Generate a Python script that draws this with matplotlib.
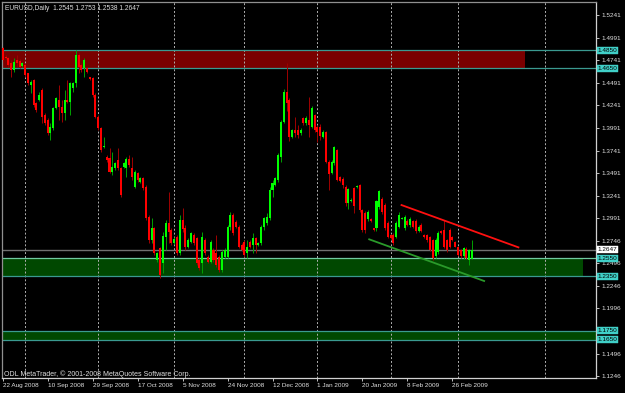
import matplotlib
matplotlib.use('Agg')
import matplotlib.pyplot as plt
import matplotlib.transforms as mtransforms

plt.rcParams['font.family'] = ['Liberation Sans', 'DejaVu Sans']

# daily bars, one per trading day (Sundays included), 22 Aug 2008 .. 6 Mar 2009
opens = [1.4872, 1.4780, 1.4769, 1.4706, 1.4633, 1.4743, 1.4736, 1.4677, 1.4688, 1.4596,
         1.4467, 1.4522, 1.4264, 1.4301, 1.4411, 1.4135, 1.4080, 1.3932, 1.3987, 1.4209,
         1.4301, 1.4227, 1.4153, 1.4301, 1.4283, 1.4430, 1.4485, 1.4799, 1.4688, 1.4651,
         1.4651, 1.4552, 1.4540, 1.4356, 1.4116, 1.3987, 1.3777, 1.3674, 1.3655, 1.3508,
         1.3545, 1.3637, 1.3545, 1.3563, 1.3545, 1.3645, 1.3545, 1.3342, 1.3490, 1.3397,
         1.3434, 1.3342, 1.3010, 1.2752, 1.2881, 1.2531, 1.2660, 1.2494, 1.2789, 1.2936,
         1.2863, 1.2715, 1.2789, 1.2605, 1.2973, 1.2880, 1.2678, 1.2733, 1.2807, 1.2770,
         1.2531, 1.2494, 1.2752, 1.2568, 1.2513, 1.2641, 1.2605, 1.2568, 1.2420, 1.2568,
         1.2568, 1.2900, 1.3029, 1.2955, 1.2900, 1.2697, 1.2733, 1.2605, 1.2733, 1.2697,
         1.2770, 1.2697, 1.2715, 1.2900, 1.2936, 1.2992, 1.3305, 1.3360, 1.3416, 1.3674,
         1.4061, 1.4390, 1.4300, 1.3895, 1.3969, 1.3969, 1.3932, 1.4098, 1.4043, 1.4080,
         1.4006, 1.4135, 1.4006, 1.4000, 1.3895, 1.3950, 1.3620, 1.3490, 1.3600, 1.3750,
         1.3450, 1.3430, 1.3340, 1.3160, 1.3180, 1.3330, 1.3340, 1.3360, 1.3080, 1.3050,
         1.2980, 1.2990, 1.2880, 1.2880, 1.3120, 1.3210, 1.3140, 1.2940, 1.2810, 1.2810,
         1.2790, 1.2900, 1.2990, 1.2880, 1.2960, 1.2920, 1.2960, 1.2960, 1.2850, 1.2920,
         1.2810, 1.2810, 1.2790, 1.2750, 1.2570, 1.2620, 1.2850, 1.2860, 1.2750, 1.2860,
         1.2790, 1.2730, 1.2680, 1.2640, 1.2570, 1.2650, 1.2530, 1.2545]
highs = [1.4891, 1.4795, 1.4780, 1.4743, 1.4762, 1.4799, 1.4751, 1.4725, 1.4706, 1.4603,
         1.4522, 1.4530, 1.4283, 1.4393, 1.4430, 1.4154, 1.4098, 1.4043, 1.4227, 1.4338,
         1.4467, 1.4301, 1.4411, 1.4522, 1.4504, 1.4504, 1.4854, 1.4817, 1.4706, 1.4762,
         1.4670, 1.4559, 1.4559, 1.4375, 1.4135, 1.4006, 1.3895, 1.3692, 1.3766, 1.3729,
         1.3619, 1.3766, 1.3563, 1.3619, 1.3674, 1.3692, 1.3674, 1.3527, 1.3508, 1.3453,
         1.3453, 1.3361, 1.3029, 1.2992, 1.2900, 1.2623, 1.2678, 1.2844, 1.2973, 1.3287,
         1.2881, 1.2789, 1.2807, 1.3029, 1.3103, 1.2918, 1.2770, 1.2844, 1.2826, 1.2789,
         1.2549, 1.2844, 1.2770, 1.2586, 1.2752, 1.2660, 1.2807, 1.2586, 1.2641, 1.2660,
         1.2918, 1.3066, 1.3047, 1.2973, 1.2918, 1.2715, 1.2752, 1.2752, 1.2752, 1.2826,
         1.2789, 1.2733, 1.2918, 1.3010, 1.3047, 1.3342, 1.3416, 1.3453, 1.3711, 1.4080,
         1.4419, 1.4710, 1.4320, 1.3980, 1.4116, 1.4024, 1.3987, 1.4116, 1.4120, 1.4338,
         1.4230, 1.4150, 1.4020, 1.4040, 1.3970, 1.3960, 1.3640, 1.3640, 1.3790, 1.3760,
         1.3460, 1.3450, 1.3360, 1.3330, 1.3220, 1.3340, 1.3360, 1.3370, 1.3100, 1.3070,
         1.3080, 1.3000, 1.2890, 1.3200, 1.3310, 1.3230, 1.3160, 1.2960, 1.2820, 1.2830,
         1.2960, 1.3060, 1.3010, 1.3030, 1.2980, 1.3010, 1.2970, 1.2980, 1.2920, 1.2940,
         1.2820, 1.2820, 1.2800, 1.2760, 1.2770, 1.2850, 1.2860, 1.2970, 1.2760, 1.2880,
         1.2800, 1.2740, 1.2690, 1.2650, 1.2680, 1.2670, 1.2650, 1.2753]
lows = [1.4725, 1.4750, 1.4670, 1.4559, 1.4614, 1.4670, 1.4651, 1.4670, 1.4559, 1.4467,
        1.4375, 1.4227, 1.4172, 1.4294, 1.4043, 1.4024, 1.3914, 1.3858, 1.3969, 1.4198,
        1.4080, 1.4061, 1.4080, 1.4264, 1.4135, 1.4393, 1.4448, 1.4596, 1.4614, 1.4559,
        1.4596, 1.4522, 1.4338, 1.4098, 1.3969, 1.3729, 1.3766, 1.3619, 1.3490, 1.3471,
        1.3527, 1.3527, 1.3231, 1.3545, 1.3453, 1.3563, 1.3416, 1.3324, 1.3397, 1.3386,
        1.3305, 1.2973, 1.2715, 1.2715, 1.2586, 1.2512, 1.2328, 1.2383, 1.2641, 1.2715,
        1.2697, 1.2708, 1.2586, 1.2586, 1.2840, 1.2641, 1.2660, 1.2715, 1.2697, 1.2476,
        1.2420, 1.2383, 1.2586, 1.2502, 1.2494, 1.2513, 1.2457, 1.2402, 1.2402, 1.2549,
        1.2549, 1.2863, 1.2807, 1.2881, 1.2660, 1.2634, 1.2568, 1.2549, 1.2660, 1.2605,
        1.2605, 1.2686, 1.2697, 1.2863, 1.2918, 1.2973, 1.3231, 1.3349, 1.3397, 1.3619,
        1.4043, 1.4180, 1.3850, 1.3885, 1.3895, 1.3877, 1.3914, 1.4024, 1.4030, 1.3895,
        1.3990, 1.3950, 1.3840, 1.3860, 1.3885, 1.3600, 1.3310, 1.3480, 1.3580, 1.3400,
        1.3390, 1.3330, 1.3130, 1.3100, 1.3170, 1.3050, 1.3330, 1.3060, 1.2840, 1.2830,
        1.2960, 1.2950, 1.2850, 1.2850, 1.3100, 1.3040, 1.2860, 1.2770, 1.2760, 1.2700,
        1.2770, 1.2880, 1.2980, 1.2860, 1.2910, 1.2900, 1.2880, 1.2830, 1.2840, 1.2840,
        1.2780, 1.2730, 1.2630, 1.2530, 1.2550, 1.2600, 1.2820, 1.2660, 1.2620, 1.2660,
        1.2740, 1.2670, 1.2580, 1.2550, 1.2540, 1.2540, 1.2480, 1.2538]
closes = [1.4743, 1.4762, 1.4688, 1.4633, 1.4725, 1.4706, 1.4670, 1.4714, 1.4577, 1.4485,
          1.4504, 1.4246, 1.4190, 1.4357, 1.4116, 1.4043, 1.3932, 1.4006, 1.4209, 1.4319,
          1.4227, 1.4153, 1.4301, 1.4279, 1.4485, 1.4485, 1.4799, 1.4670, 1.4633, 1.4743,
          1.4614, 1.4529, 1.4356, 1.4116, 1.3987, 1.3748, 1.3792, 1.3637, 1.3508, 1.3563,
          1.3600, 1.3545, 1.3250, 1.3600, 1.3645, 1.3582, 1.3453, 1.3508, 1.3416, 1.3434,
          1.3324, 1.2992, 1.2752, 1.2881, 1.2605, 1.2605, 1.2365, 1.2800, 1.2936, 1.2844,
          1.2715, 1.2759, 1.2605, 1.2973, 1.2870, 1.2678, 1.2752, 1.2826, 1.2715, 1.2494,
          1.2439, 1.2789, 1.2605, 1.2513, 1.2733, 1.2531, 1.2476, 1.2420, 1.2623, 1.2641,
          1.2900, 1.3029, 1.2826, 1.2900, 1.2678, 1.2641, 1.2586, 1.2678, 1.2678, 1.2770,
          1.2697, 1.2723, 1.2900, 1.2992, 1.3010, 1.3305, 1.3379, 1.3434, 1.3692, 1.4061,
          1.4393, 1.4270, 1.3890, 1.3969, 1.3932, 1.3914, 1.3969, 1.4043, 1.4098, 1.4024,
          1.4209, 1.3969, 1.3950, 1.3900, 1.3950, 1.3620, 1.3480, 1.3620, 1.3780, 1.3420,
          1.3400, 1.3360, 1.3160, 1.3320, 1.3200, 1.3130, 1.3350, 1.3080, 1.2860, 1.2860,
          1.3060, 1.2960, 1.2860, 1.3180, 1.3290, 1.3060, 1.2880, 1.2790, 1.2770, 1.2720,
          1.2940, 1.3030, 1.3000, 1.3010, 1.2920, 1.2990, 1.2900, 1.2850, 1.2900, 1.2850,
          1.2790, 1.2750, 1.2640, 1.2550, 1.2750, 1.2830, 1.2830, 1.2680, 1.2640, 1.2680,
          1.2750, 1.2680, 1.2590, 1.2570, 1.2660, 1.2550, 1.2640, 1.2647]

date_labels = ['22 Aug 2008', '10 Sep 2008', '29 Sep 2008', '17 Oct 2008', '5 Nov 2008',
               '24 Nov 2008', '12 Dec 2008', '1 Jan 2009', '20 Jan 2009', '8 Feb 2009',
               '26 Feb 2009']
date_label_idx = [0, 16, 32, 48, 64, 80, 96, 112, 128, 144, 160]
month_grid_idx = [8, 34, 61, 86, 112, 138, 162, 193]

price_ticks = [1.5241, 1.4991, 1.4741, 1.4491, 1.4241, 1.3991, 1.3741, 1.3491, 1.3241,
               1.2991, 1.2746, 1.2496, 1.2246, 1.1996, 1.1746, 1.1496, 1.1246]
# 1.1746 sits under the 1.1750 level box, so its label is not shown
price_tick_labels = ['1.5241', '1.4991', '1.4741', '1.4491', '1.4241', '1.3991', '1.3741',
                     '1.3491', '1.3241', '1.2991', '1.2746', '1.2496', '1.2246', '1.1996',
                     '', '1.1496', '1.1246']

red_zone = (1.4650, 1.4850)
red_zone_end = 186
green_zone = (1.2350, 1.2550)
green_zone_end = 206.5
low_zone = (1.1650, 1.1750)
last_price = 1.2647

red_trend_idx = [141.9, 183.5]
red_trend_price = [1.3139, 1.2671]
green_trend_idx = [130.4, 171.3]
green_trend_price = [1.2760, 1.2299]

W, H = 625, 393
fig = plt.figure(figsize=(W / 100, H / 100), dpi=100, facecolor='black')
ax = fig.add_axes([2 / W, 1 - 378 / H, 594 / W, 376 / H])
ax.set_facecolor('black')
ax.set_xlim(-0.25, 211.1)
ax.set_ylim(1.1226, 1.5385)

teal = '#3a9a90'
box = '#40d0c8'

# zones
ax.fill_between([-1, red_zone_end], red_zone[0], red_zone[1], color='#7a0000', lw=0, zorder=1)
ax.fill_between([-1, green_zone_end], green_zone[0], green_zone[1], color='#004800', lw=0, zorder=1)
ax.fill_between([-1, 220], low_zone[0], low_zone[1], color='#004800', lw=0, zorder=1)
for lvl in [red_zone[1], red_zone[0], green_zone[0], low_zone[0], low_zone[1]]:
    ax.axhline(lvl, color=teal, lw=0.9, zorder=2)
ax.axhline(green_zone[1], color='#70c8a0', lw=0.9, zorder=2)
ax.axhline(last_price, color='#707070', lw=1.0, zorder=2)

# month grid
for g in month_grid_idx:
    ax.axvline(g, color='#b0b0b0', lw=0.7, ls=(0, (2, 2)), zorder=1.5)

# candles
idx = list(range(len(closes)))
up = [c >= o for o, c in zip(opens, closes)]
wick_cols = ['#00a000' if u else '#a00000' for u in up]
body_cols = ['#00ff00' if u else '#ff0000' for u in up]
ax.vlines(idx, lows, highs, colors=wick_cols, lw=0.7, zorder=3)
bottoms = [min(o, c) for o, c in zip(opens, closes)]
heights = [max(abs(c - o), 0.0007) for o, c in zip(opens, closes)]
ax.bar(idx, heights, bottom=bottoms, width=0.72, color=body_cols, lw=0, zorder=4)

# trend lines
ax.plot(red_trend_idx, red_trend_price, color='#ff1010', lw=1.3, zorder=5)
ax.plot(green_trend_idx, green_trend_price, color='#2a9a2a', lw=1.3, zorder=5)

# axes look
for s in ['left', 'top']:
    ax.spines[s].set_color('#909090')
for s in ['right', 'bottom']:
    ax.spines[s].set_color('#d0d0d0')
for s in ax.spines.values():
    s.set_linewidth(0.9)

ax.yaxis.tick_right()
ax.set_yticks(price_ticks)
ax.set_yticklabels(price_tick_labels)
ax.set_xticks(date_label_idx)
ax.set_xticklabels(date_labels, ha='left')
ax.tick_params(axis='both', colors='#e0e0e0', labelsize=4.6, length=2, width=0.6, pad=1.5)
ax.tick_params(axis='y', pad=2)

# level boxes on the price scale
tr = mtransforms.blended_transform_factory(ax.transAxes, ax.transData)
for lvl in [red_zone[1], red_zone[0], green_zone[1], green_zone[0], low_zone[1], low_zone[0]]:
    ax.text(1.003, lvl, '%.4f' % lvl, transform=tr, fontsize=4.6, color='black',
            va='center', ha='left', zorder=10,
            bbox=dict(boxstyle='square,pad=0.12', fc=box, ec=box, lw=0.3))
ax.text(1.003, last_price, '%.4f' % last_price, transform=tr, fontsize=4.6, color='black',
        va='center', ha='left', zorder=10,
        bbox=dict(boxstyle='square,pad=0.12', fc='white', ec='white', lw=0.3))

fig.text(5 / W, 1 - 8 / H, 'EURUSD,Daily  1.2545 1.2753 1.2538 1.2647', color='#e0e0e0',
         fontsize=4.8, va='center', ha='left')
fig.text(4 / W, 1 - 374 / H, 'ODL MetaTrader, \u00a9 2001-2008 MetaQuotes Software Corp.',
         color='#e0e0e0', fontsize=5.0, va='center', ha='left')

fig.savefig('out.png', dpi=100, facecolor='black')
